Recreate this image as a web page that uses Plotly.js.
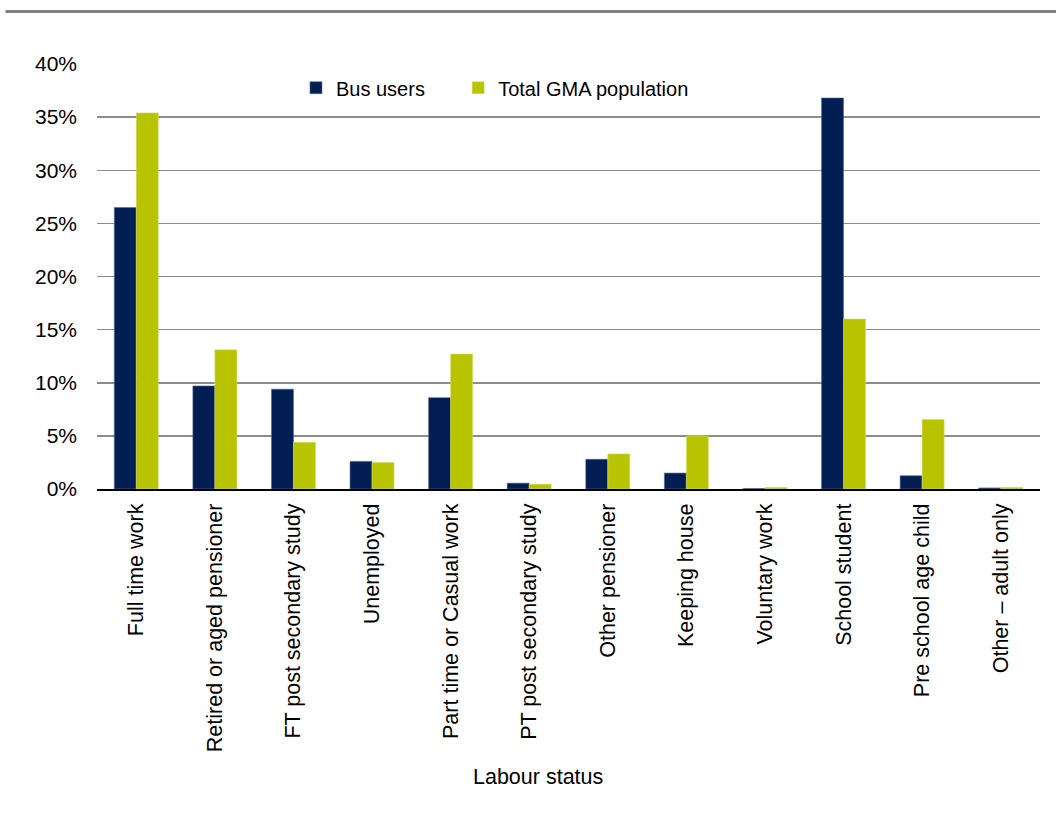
<!DOCTYPE html>
<html>
<head>
<meta charset="utf-8">
<script src="https://cdn.plot.ly/plotly-3.0.1.min.js"></script>
<style>
  html, body { margin: 0; padding: 0; background: #ffffff; }
  #chart { width: 1056px; height: 818px; }
</style>
</head>
<body>
<div id="chart"></div>
<script>
// Labour status categories
const categories = [
  "Full time work",
  "Retired or aged pensioner",
  "FT post secondary study",
  "Unemployed",
  "Part time or Casual work",
  "PT post secondary study",
  "Other pensioner",
  "Keeping house",
  "Voluntary work",
  "School student",
  "Pre school age child",
  "Other \u2013 adult only"
];

// Share of each group (%)
const busUsers      = [26.5, 9.7, 9.4, 2.6, 8.6, 0.55, 2.8, 1.5, 0.05, 36.8, 1.25, 0.1];
const gmaPopulation = [35.4, 13.1, 4.4, 2.5, 12.7, 0.45, 3.3, 5.0, 0.15, 16.0, 6.55, 0.15];

const seriesNames = ["Bus users", "Total GMA population"];
const yTicks = [0, 5, 10, 15, 20, 25, 30, 35, 40];
const xTitle = "Labour status";

const font = "Liberation Sans, Arial, sans-serif";

const traces = [
  {
    type: "bar",
    name: seriesNames[0],
    legend: "legend",
    x: categories,
    y: busUsers,
    marker: { color: "#021e52", line: { color: "#5a6c90", width: 0.6 } },
    hoverinfo: "x+y"
  },
  {
    type: "bar",
    name: seriesNames[1],
    legend: "legend2",
    x: categories,
    y: gmaPopulation,
    marker: { color: "#b8c400", line: { color: "#d5dc70", width: 0.6 } },
    hoverinfo: "x+y"
  }
];

// one legend box per series so each key sits at its own place along the top
const legendStyle = (x) => ({
  orientation: "h",
  x: x,
  xanchor: "left",
  y: 0.99,
  yanchor: "top",
  font: { family: font, size: 20, color: "#000000" },
  itemwidth: 30,
  bgcolor: "rgba(0,0,0,0)"
});

const layout = {
  width: 1056,
  height: 818,
  paper_bgcolor: "#ffffff",
  plot_bgcolor: "#ffffff",
  margin: { l: 97, r: 16, t: 64, b: 329 },
  barmode: "group",
  bargap: 0.44,
  bargroupgap: 0,
  font: { family: font, size: 21, color: "#000000" },
  showlegend: true,
  legend: legendStyle(0.211),
  legend2: legendStyle(0.383),
  xaxis: {
    type: "category",
    tickangle: -90,
    tickfont: { family: font, size: 21.5, color: "#000000" },
    showgrid: false,
    showline: true,
    linecolor: "#000000",
    linewidth: 2,
    ticks: "",
    ticklabelstandoff: 4
  },
  yaxis: {
    range: [0, 40],
    tickvals: yTicks,
    ticktext: yTicks.map(v => v + "%"),
    tickfont: { family: font, size: 21, color: "#000000" },
    showgrid: true,
    gridcolor: "#8c8c8c",
    gridwidth: 1.5,
    zeroline: false,
    showline: false,
    ticks: "",
    ticklabelstandoff: 19
  },
  annotations: [
    {
      text: xTitle,
      xref: "paper", yref: "paper",
      x: 0.4677, y: -0.6776,
      xanchor: "center", yanchor: "middle",
      showarrow: false,
      font: { family: font, size: 21.5, color: "#000000" }
    }
  ],
  shapes: [
    {
      type: "line",
      xref: "paper", yref: "paper",
      x0: -0.097, x1: 1.02,
      y0: 1.1235, y1: 1.1235,
      line: { color: "#808080", width: 3 }
    }
  ]
};

Plotly.newPlot("chart", traces, layout, { displayModeBar: false, staticPlot: true });
</script>
</body>
</html>
